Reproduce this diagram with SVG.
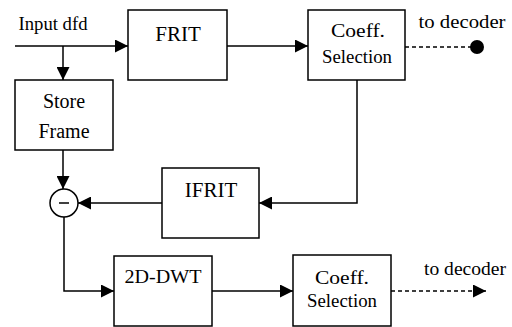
<svg xmlns="http://www.w3.org/2000/svg" width="512" height="327" viewBox="0 0 512 327">
<defs>
<style>
.box{fill:#fff;stroke:#000;stroke-width:1.5}
.ln{fill:none;stroke:#000;stroke-width:1.5}
.dash{fill:none;stroke:#000;stroke-width:1.3;stroke-dasharray:4 3}
.t{font-family:"Liberation Serif","Times New Roman",serif;fill:#000;text-anchor:middle}
</style>
<marker id="ah" viewBox="0 0 10 10" refX="10" refY="5" markerWidth="13" markerHeight="13" markerUnits="userSpaceOnUse" orient="auto">
<path d="M0,0 L10,5 L0,10 Z" fill="#000"/>
</marker>
</defs>
<rect width="512" height="327" fill="#fff"/>
<g id="connectors">
<line class="ln" x1="15" y1="46" x2="128" y2="46" marker-end="url(#ah)"/>
<line class="ln" x1="63" y1="46" x2="63" y2="80" marker-end="url(#ah)"/>
<line class="ln" x1="227" y1="46" x2="308" y2="46" marker-end="url(#ah)"/>
<line class="dash" x1="405" y1="47" x2="471" y2="47"/>
<circle cx="477" cy="47" r="7" fill="#000"/>
<polyline class="ln" points="357,80 357,203 259,203" marker-end="url(#ah)"/>
<line class="ln" x1="63" y1="150" x2="63" y2="189" marker-end="url(#ah)"/>
<line class="ln" x1="162" y1="203" x2="78" y2="203" marker-end="url(#ah)"/>
<polyline class="ln" points="64,217 64,291 114,291" marker-end="url(#ah)"/>
<line class="ln" x1="212" y1="291" x2="293" y2="291" marker-end="url(#ah)"/>
<line class="dash" x1="391" y1="291" x2="486" y2="291" marker-end="url(#ah)"/>
</g>
<g id="input-label"><text class="t" x="53" y="30" font-size="18" textLength="69" lengthAdjust="spacingAndGlyphs">Input dfd</text></g>
<g id="frit"><rect class="box" x="128" y="10" width="99" height="70"/><text class="t" x="178" y="41" font-size="21">FRIT</text></g>
<g id="coeff1"><rect class="box" x="308" y="10" width="97" height="70"/><text class="t" x="358" y="37" font-size="19" textLength="54" lengthAdjust="spacingAndGlyphs">Coeff.</text><text class="t" x="357" y="63" font-size="19" textLength="70" lengthAdjust="spacingAndGlyphs">Selection</text></g>
<g id="decoder1"><text class="t" x="462" y="28" font-size="19" textLength="87" lengthAdjust="spacingAndGlyphs">to decoder</text></g>
<g id="store"><rect class="box" x="15" y="80" width="98" height="70"/><text class="t" x="64" y="108" font-size="20">Store</text><text class="t" x="64" y="138" font-size="20">Frame</text></g>
<g id="ifrit"><rect class="box" x="162" y="168" width="97" height="70"/><text class="t" x="211" y="197" font-size="21">IFRIT</text></g>
<g id="subtract"><circle class="box" cx="64" cy="203" r="14"/><line class="ln" x1="59" y1="203" x2="69" y2="203"/></g>
<g id="dwt"><rect class="box" x="114" y="256" width="98" height="70"/><text class="t" x="163" y="283" font-size="19" textLength="77" lengthAdjust="spacingAndGlyphs">2D-DWT</text></g>
<g id="coeff2"><rect class="box" x="293" y="255" width="98" height="71"/><text class="t" x="342" y="284" font-size="19" textLength="54" lengthAdjust="spacingAndGlyphs">Coeff.</text><text class="t" x="342" y="307" font-size="19" textLength="70" lengthAdjust="spacingAndGlyphs">Selection</text></g>
<g id="decoder2"><text class="t" x="465" y="275" font-size="19" textLength="82" lengthAdjust="spacingAndGlyphs">to decoder</text></g>
</svg>
